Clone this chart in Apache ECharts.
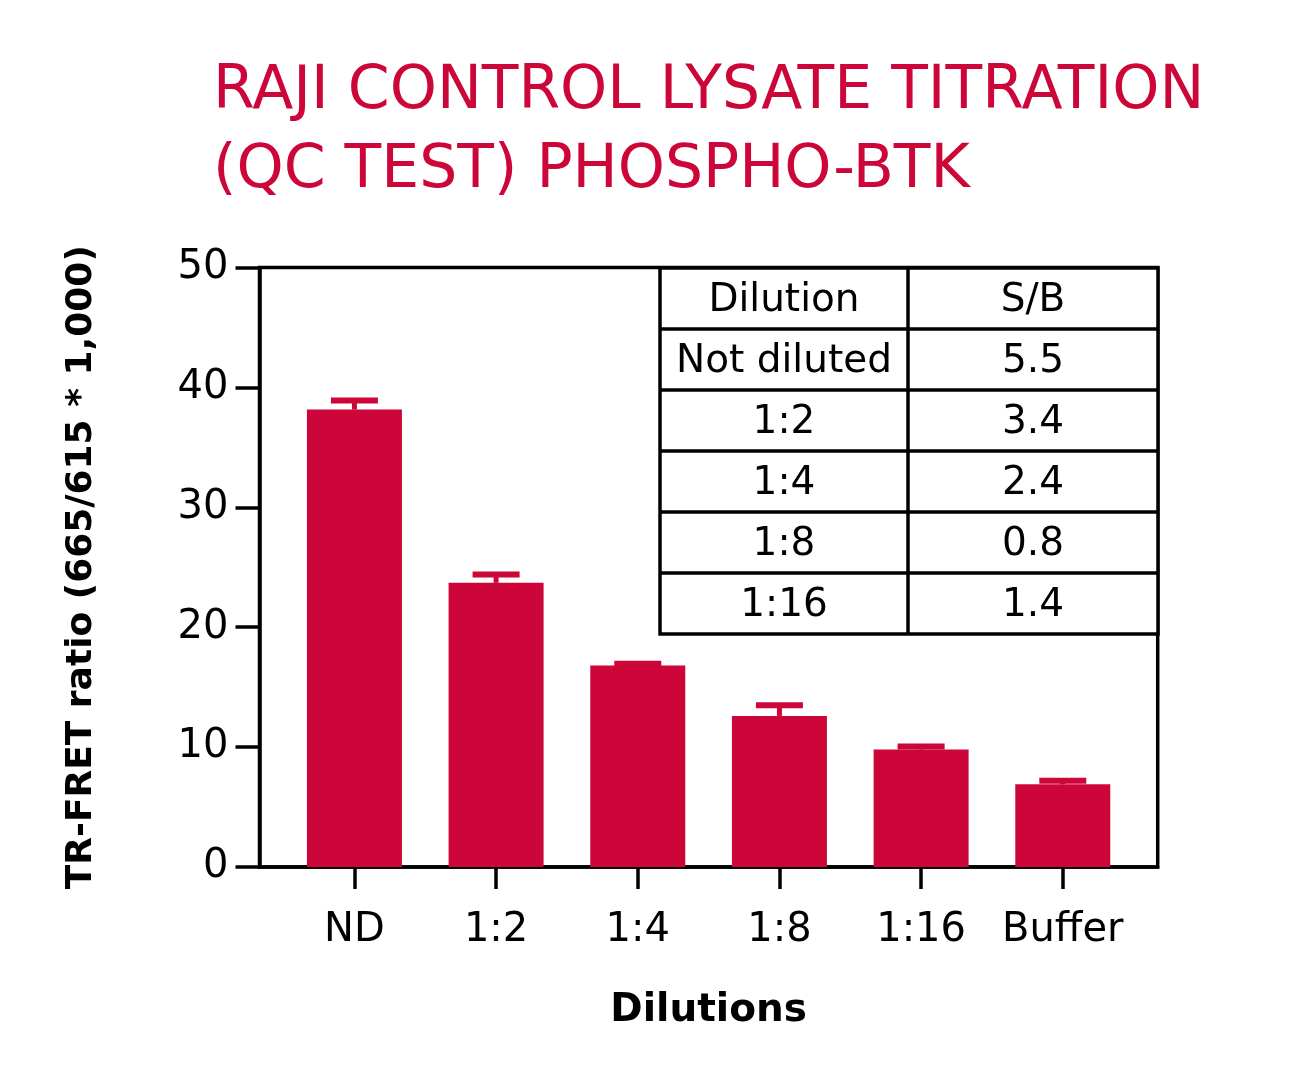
<!DOCTYPE html>
<html>
<head>
<meta charset="utf-8">
<script src="https://cdn.jsdelivr.net/npm/echarts@6/dist/echarts.min.js"></script>
<style>
  html, body { margin: 0; padding: 0; background: #fff; }
  #main { width: 1313px; height: 1077px; }
</style>
</head>
<body>
<div id="main"></div>
<script>
// bar chart data
var categories = ['ND', '1:2', '1:4', '1:8', '1:16', 'Buffer'];
var means = [38.15, 23.7, 16.8, 12.6, 9.8, 6.9];
var upper = [38.9, 24.4, 16.95, 13.5, 10.05, 7.2];
var yTicks = [0, 10, 20, 30, 40, 50];

// inset table
var tableHeader = ['Dilution', 'S/B'];
var tableDilution = ['Not diluted', '1:2', '1:4', '1:8', '1:16'];
var tableSB = ['5.5', '3.4', '2.4', '0.8', '1.4'];

var RED = '#cc0639';
var FONT = 'DejaVu Sans';

var chart = echarts.init(document.getElementById('main'), null, { renderer: 'canvas' });

var barData = means.map(function (v, i) { return [i, v]; });
var errData = means.map(function (v, i) { return [i, v, upper[i]]; });
var catIdx = categories.map(function (c, i) { return i; });

// table built with graphic elements, placed in the upper right of the plot
function buildTable() {
  var x0 = 660, x1 = 908, x2 = 1158, y0 = 268, rowH = 61;
  var rows = [tableHeader].concat(tableDilution.map(function (d, i) { return [d, tableSB[i]]; }));
  var els = [];
  var h = rows.length * rowH;
  els.push({ type: 'rect', shape: { x: x0, y: y0, width: x2 - x0, height: h },
    style: { fill: '#fff', stroke: '#000', lineWidth: 3.5 }, z: 10 });
  els.push({ type: 'line', shape: { x1: x1, y1: y0, x2: x1, y2: y0 + h },
    style: { stroke: '#000', lineWidth: 3.5 }, z: 11 });
  rows.forEach(function (r, i) {
    if (i > 0) {
      els.push({ type: 'line', shape: { x1: x0, y1: y0 + i * rowH, x2: x2, y2: y0 + i * rowH },
        style: { stroke: '#000', lineWidth: 3.5 }, z: 11 });
    }
    var cy = y0 + i * rowH + rowH / 2 + 2;
    els.push({ type: 'text', x: (x0 + x1) / 2, y: cy, z: 12,
      style: { text: r[0], fill: '#000', font: '39px "' + FONT + '"', align: 'center', verticalAlign: 'middle' } });
    els.push({ type: 'text', x: (x1 + x2) / 2, y: cy, z: 12,
      style: { text: r[1], fill: '#000', font: '39px "' + FONT + '"', align: 'center', verticalAlign: 'middle' } });
  });
  return els;
}

var option = {
  backgroundColor: '#fff',
  animation: false,
  title: {
    text: 'RAJI CONTROL LYSATE TITRATION\n(QC TEST) PHOSPHO-BTK',
    left: 208,
    top: 48,
    textStyle: { color: RED, fontFamily: FONT, fontWeight: 'normal', fontSize: 60, lineHeight: 79 }
  },
  grid: {
    left: 259.5, right: 155.3, top: 267.5, bottom: 210,
    show: true, borderColor: '#000', borderWidth: 3.5, backgroundColor: 'transparent'
  },
  xAxis: {
    type: 'value',
    min: -0.67,
    max: 5.67,
    name: 'Dilutions',
    nameLocation: 'middle',
    nameGap: 124,
    nameTextStyle: { color: '#000', fontFamily: FONT, fontWeight: 'bold', fontSize: 39 },
    splitLine: { show: false },
    axisLine: { show: true, onZero: false, lineStyle: { color: '#000', width: 3.5 } },
    axisTick: { show: true, customValues: catIdx, length: 22, lineStyle: { color: '#000', width: 3.5 } },
    axisLabel: {
      customValues: catIdx,
      margin: 44,
      color: '#000', fontFamily: FONT, fontSize: 40,
      formatter: function (v) { return categories[Math.round(v)]; }
    }
  },
  yAxis: {
    type: 'value',
    min: 0,
    max: 50,
    interval: 10,
    name: 'TR-FRET ratio (665/615 * 1,000)',
    nameLocation: 'middle',
    nameGap: 160,
    nameTextStyle: { color: '#000', fontFamily: FONT, fontWeight: 'bold', fontSize: 36 },
    splitLine: { show: false },
    axisLine: { show: true, onZero: false, lineStyle: { color: '#000', width: 3.5 } },
    axisTick: { show: true, length: 24, lineStyle: { color: '#000', width: 3.5 } },
    axisLabel: {
      margin: 31, color: '#000', fontFamily: FONT, fontSize: 40,
      padding: [6, 0, 0, 0],
      formatter: function (v) { return yTicks.indexOf(v) >= 0 ? String(v) : ''; }
    }
  },
  series: [
    {
      type: 'bar',
      data: barData,
      barWidth: 95,
      itemStyle: { color: RED },
      z: 2
    },
    {
      type: 'custom',
      data: errData,
      z: 3,
      renderItem: function (params, api) {
        var x = api.value(0);
        var p0 = api.coord([x, api.value(1)]);
        var p1 = api.coord([x, api.value(2)]);
        var half = 23.5;
        return {
          type: 'group',
          children: [
            { type: 'line', shape: { x1: p0[0], y1: p0[1], x2: p1[0], y2: p1[1] }, style: { stroke: RED, lineWidth: 5 } },
            { type: 'line', shape: { x1: p1[0] - half, y1: p1[1], x2: p1[0] + half, y2: p1[1] }, style: { stroke: RED, lineWidth: 6 } }
          ]
        };
      }
    }
  ],
  graphic: buildTable()
};

chart.setOption(option);
</script>
</body>
</html>
